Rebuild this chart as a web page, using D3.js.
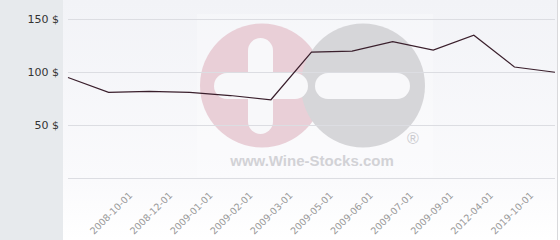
<!doctype html>
<meta charset="utf-8">
<title>Wine price</title>
<style>
body { margin: 0; background: #fff; }
svg { display: block; font-family: "DejaVu Sans", sans-serif; }
</style>
<script src="https://d3js.org/d3.v7.min.js"></script>
<body>
<div id="chart"></div>
<script>
// price history, one value per vertex of the line
var prices = [95, 81, 82, 81, 78, 74, 119, 120, 129, 121, 135, 105, 100];
// x labels (only the inner points carry a date)
var dates = ["2008-10-01", "2008-12-01", "2009-01-01", "2009-02-01", "2009-03-01",
             "2009-05-01", "2009-06-01", "2009-07-01", "2009-09-01", "2012-04-01", "2019-10-01"];
var yTicks = [50, 100, 150];

var W = 560, H = 240;
var svg = d3.select("#chart").append("svg").attr("width", W).attr("height", H);

var defs = svg.append("defs");
var g1 = defs.append("linearGradient").attr("id", "bg").attr("x1", 0).attr("y1", 0).attr("x2", 0).attr("y2", 1);
g1.append("stop").attr("offset", "0%").attr("stop-color", "#f2f3f7");
g1.append("stop").attr("offset", "75%").attr("stop-color", "#fafafc");
g1.append("stop").attr("offset", "100%").attr("stop-color", "#ffffff");

// left panel + plot background
svg.append("rect").attr("x", 0).attr("y", 0).attr("width", 63).attr("height", H).attr("fill", "#e7eaed");
svg.append("rect").attr("x", 63).attr("y", 0).attr("width", 494).attr("height", H).attr("fill", "url(#bg)");
svg.append("line").attr("x1", 557.5).attr("x2", 557.5).attr("y1", 0).attr("y2", H)
  .attr("stroke", "#d9d9dc");

var x = d3.scalePoint().domain(d3.range(prices.length)).range([68, 555]);
var xl = d3.scalePoint().domain(dates).range([133, 534]);
var y = d3.scaleLinear().domain([0, 150]).range([178, 19.4]);

// watermark
var wm = svg.append("g");
wm.append("rect").attr("x", 197).attr("y", 14).attr("width", 236).attr("height", 163)
  .attr("fill", "#ffffff").attr("opacity", 0.25);
wm.append("circle").attr("cx", 262).attr("cy", 85.5).attr("r", 62).attr("fill", "#e9cfd7");
wm.append("circle").attr("cx", 363).attr("cy", 85.5).attr("r", 62).attr("fill", "#d6d6d9");
wm.append("rect").attr("x", 248).attr("y", 38).attr("width", 25).attr("height", 96).attr("rx", 12.5)
  .attr("fill", "#f8f8fa");
wm.append("rect").attr("x", 214).attr("y", 73).attr("width", 94).attr("height", 26).attr("rx", 13)
  .attr("fill", "#f8f8fa");
wm.append("rect").attr("x", 315).attr("y", 73).attr("width", 95).attr("height", 26).attr("rx", 13)
  .attr("fill", "#f8f8fa");
wm.append("text").attr("x", 413).attr("y", 144).attr("text-anchor", "middle")
  .attr("font-family", "Liberation Sans, Arial, sans-serif").attr("font-size", 16)
  .attr("fill", "#cbcbcf").text("®");
wm.append("text").attr("x", 312).attr("y", 166).attr("text-anchor", "middle")
  .attr("font-family", "Liberation Sans, Arial, sans-serif").attr("font-weight", "bold")
  .attr("font-size", 15).attr("fill", "#d2d2d6").text("www.Wine-Stocks.com");

// grid
svg.append("g").selectAll("line").data([0].concat(yTicks)).join("line")
  .attr("x1", 68).attr("x2", 555)
  .attr("y1", d => Math.round(y(d)) + 0.5).attr("y2", d => Math.round(y(d)) + 0.5)
  .attr("stroke", "#dcdde2");

// y labels
svg.append("g").selectAll("text").data(yTicks).join("text")
  .attr("x", 59).attr("y", d => y(d) + 4)
  .attr("text-anchor", "end").attr("font-size", 11).attr("fill", "#333")
  .text(d => d + " $");

// x labels
svg.append("g").selectAll("text").data(dates).join("text")
  .attr("transform", d => "translate(" + xl(d) + ",196) rotate(-45)")
  .attr("text-anchor", "end").attr("font-size", 9.5).attr("fill", "#999")
  .text(d => d);

// line
var line = d3.line().x((d, i) => x(i)).y(d => y(d));
svg.append("path").datum(prices).attr("d", line)
  .attr("fill", "none").attr("stroke", "#3a1f2c").attr("stroke-width", 1.2);
</script>
</body>
